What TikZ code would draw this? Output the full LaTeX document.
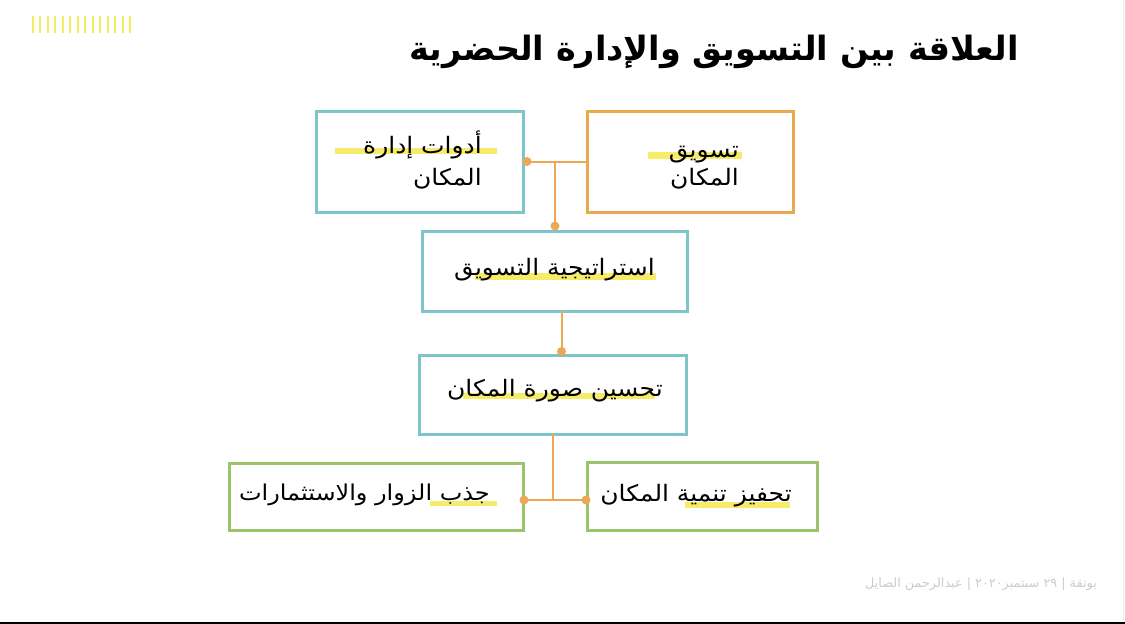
\documentclass[tikz,border=0pt]{standalone}
\usepackage{fontspec}
\TeXXeTstate=1
\newfontfamily\arabicfont[Script=Arabic]{DejaVu Sans}
\newfontfamily\arabicwide[Script=Arabic,FakeStretch=1.1]{DejaVu Sans}
\newcommand{\AR}[1]{{\arabicfont\beginR #1\endR}}
\newcommand{\ARW}[1]{{\arabicwide\beginR #1\endR}}
\definecolor{tealc}{HTML}{7DC5C9}
\definecolor{orangec}{HTML}{E9A94F}
\definecolor{greenc}{HTML}{9CC46A}
\definecolor{hlc}{HTML}{F7EC6A}
\definecolor{linkc}{HTML}{EBA855}
\definecolor{barc}{HTML}{F2EE5E}
\tikzset{
  box/.style={draw=#1, line width=3pt, rectangle, inner sep=0pt, fill=none},
  lbl/.style={inner sep=0pt, anchor=base east, font=\fontsize{22.7}{26}\selectfont, text=black},
  link/.style={draw=linkc, line width=2pt},
  dot/.style={circle, fill=linkc, inner sep=0pt, minimum size=9pt},
  hl/.style={fill=hlc}
}
\begin{document}
\begin{tikzpicture}[x=1pt,y=-1pt]
\useasboundingbox (0,0) rectangle (1125,624);
\fill[white] (0,0) rectangle (1125,624);
\draw[black!8, line width=1pt] (1123.5,0) -- (1123.5,621);
\draw[black, line width=2.5pt] (0,622.8) -- (1125,622.8);
% yellow bars
\foreach \i in {0,...,13} {
  \draw[barc, line width=2pt] ({33+\i*7.46},16) -- ({33+\i*7.46},33);
}
% title
\node[inner sep=0pt, anchor=base east, font=\bfseries\fontsize{33.5}{38}\selectfont] (title) at (1019,60) {\AR{العلاقة بين التسويق والإدارة الحضرية}};

% boxes
\node[box=tealc, minimum width=207pt, minimum height=101pt] (tools) at (419.5,161.5) {};
\node[box=orangec, minimum width=206pt, minimum height=101pt] (mkt) at (690,161.5) {};
\node[box=tealc, minimum width=265pt, minimum height=80pt] (strat) at (554.5,271) {};
\node[box=tealc, minimum width=267pt, minimum height=79pt] (image) at (552.5,394.5) {};
\node[box=greenc, minimum width=294pt, minimum height=67pt] (attract) at (376,496.5) {};
\node[box=greenc, minimum width=230pt, minimum height=68pt] (dev) at (702,496) {};

% highlights
\fill[hl] (335,148) rectangle (497,154);
\fill[hl] (648,152) rectangle (742,159);
\fill[hl] (475,273) rectangle (656,280);
\fill[hl] (463,393) rectangle (655,399);
\fill[hl] (430,501) rectangle (497,506);
\fill[hl] (685,502) rectangle (790,508);

% labels
\node[lbl] (tools1) at (482,153) {\ARW{أدوات إدارة}};
\node[lbl] (tools2) at (482,185) {\ARW{المكان}};
\node[lbl] (mkt1) at (739,157) {\ARW{تسويق}};
\node[lbl] (mkt2) at (739,185) {\ARW{المكان}};
\node[lbl] (stratl) at (655,275) {\ARW{استراتيجية التسويق}};
\node[lbl] (imagel) at (663,396) {\ARW{تحسين صورة المكان}};
\node[lbl, font=\fontsize{21.8}{26}\selectfont] (attractl) at (490,500) {\ARW{جذب الزوار والاستثمارات}};
\node[lbl] (devl) at (792,501) {\ARW{تحفيز تنمية المكان}};

% connectors
\node[dot] (d1) at (527,161.5) {};
\coordinate (j1) at (555,161.5);
\node[dot] (d2) at (555,226) {};
\draw[link] (d1.center) -- (mkt.west);
\draw[link] (j1) -- (d2.center);
\coordinate (s1) at (561.5,311);
\node[dot] (d3) at (561.5,351.5) {};
\draw[link] (s1) -- (d3.center);
\coordinate (s2) at (553,434);
\coordinate (j2) at (553,500);
\node[dot] (d4) at (524,500) {};
\node[dot] (d5) at (586,500) {};
\draw[link] (s2) -- (j2);
\draw[link] (d4.center) -- (d5.center);

% footer
\node[inner sep=0pt, anchor=base east, text=black!20, font=\arabicfont\fontsize{12.8}{14}\selectfont] (footer) at (1097,587) {\AR{بوتقة | ٢٩ سبتمبر٢٠٢٠ | عبدالرحمن الصايل}};
\end{tikzpicture}
\end{document}
